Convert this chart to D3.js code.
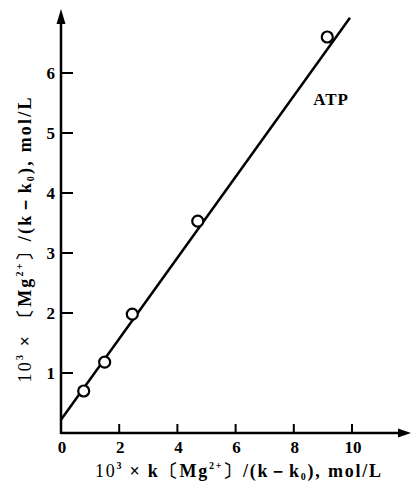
<!DOCTYPE html>
<html>
<head>
<meta charset="utf-8">
<script src="https://cdn.jsdelivr.net/npm/d3@7"></script>
<style>
  body { margin: 0; background: #fff; }
  svg text { font-family: "Liberation Serif", "DejaVu Serif", serif; font-weight: bold; fill: #000; }
</style>
</head>
<body>
<div id="chart"></div>
<script>
// measured points (x: 10^3 k[Mg]/(k-k0), y: 10^3 [Mg]/(k-k0))
const xValues = [0.78, 1.5, 2.45, 4.7, 9.15];
const yValues = [0.7, 1.18, 1.98, 3.53, 6.6];
// fitted line end points
const fitX = [0, 9.93];
const fitY = [0.22, 6.92];
const xTicks = [2, 4, 6, 8, 10];
const yTicks = [1, 2, 3, 4, 5, 6];
const seriesLabel = 'ATP';

const width = 411, height = 487;
const svg = d3.select('#chart').append('svg')
  .attr('width', width)
  .attr('height', height);

const x = d3.scaleLinear().domain([0, 10]).range([61, 352]);
const y = d3.scaleLinear().domain([0, 6]).range([433, 73]);

// axes lines with arrows
svg.append('line')
  .attr('x1', x(0)).attr('y1', y(0))
  .attr('x2', 402).attr('y2', y(0))
  .attr('stroke', '#000').attr('stroke-width', 2.5);
svg.append('path')
  .attr('d', `M411,${y(0)} L398,${y(0) - 4.5} L398,${y(0) + 4.5} Z`)
  .attr('fill', '#000');
svg.append('line')
  .attr('x1', x(0)).attr('y1', y(0) + 1)
  .attr('x2', x(0)).attr('y2', 20)
  .attr('stroke', '#000').attr('stroke-width', 2.5);
svg.append('path')
  .attr('d', `M${x(0)},9 L${x(0) - 4.5},24 L${x(0) + 4.5},24 Z`)
  .attr('fill', '#000');

// ticks (inside)
svg.selectAll('.xt').data(xTicks).enter().append('line')
  .attr('x1', d => x(d)).attr('x2', d => x(d))
  .attr('y1', y(0)).attr('y2', y(0) - 9)
  .attr('stroke', '#000').attr('stroke-width', 2);
svg.selectAll('.yt').data(yTicks).enter().append('line')
  .attr('x1', x(0)).attr('x2', x(0) + 12)
  .attr('y1', d => y(d)).attr('y2', d => y(d))
  .attr('stroke', '#000').attr('stroke-width', 2);

// tick labels
svg.selectAll('.xl').data([0].concat(xTicks)).enter().append('text')
  .attr('x', d => x(d) + 1).attr('y', y(0) + 20)
  .attr('text-anchor', 'middle')
  .attr('font-size', 17)
  .text(d => d);
svg.selectAll('.yl').data(yTicks).enter().append('text')
  .attr('x', x(0) - 6).attr('y', d => y(d) + 6)
  .attr('text-anchor', 'end')
  .attr('font-size', 17)
  .text(d => d);

// fitted line
svg.append('line')
  .attr('x1', x(fitX[0])).attr('y1', y(fitY[0]))
  .attr('x2', x(fitX[1])).attr('y2', y(fitY[1]))
  .attr('stroke', '#000').attr('stroke-width', 2.5);

// data circles
svg.selectAll('.pt').data(xValues).enter().append('circle')
  .attr('cx', d => x(d))
  .attr('cy', (d, i) => y(yValues[i]))
  .attr('r', 5.5)
  .attr('fill', '#fff')
  .attr('stroke', '#000')
  .attr('stroke-width', 2.2);

// series label
svg.append('text')
  .attr('x', 331).attr('y', 105)
  .attr('text-anchor', 'middle')
  .attr('font-size', 17)
  .attr('letter-spacing', 1)
  .text(seriesLabel);

// axis title builder
function axisTitle(sel, lead) {
  sel.append('tspan').attr('font-weight', 'normal').text('10');
  sel.append('tspan').attr('font-size', 10).attr('dy', -8).text('3');
  sel.append('tspan').attr('dy', 8).text(' × ');
  sel.append('tspan').text(lead + '〔Mg');
  sel.append('tspan').attr('font-size', 10).attr('dy', -8).text('2+');
  sel.append('tspan').attr('dy', 8).text('〕/(k－k');
  sel.append('tspan').attr('font-size', 10).attr('dy', 3).text('0');
  sel.append('tspan').attr('dy', -3).text('), mol/L');
}

// x axis title
const xt = svg.append('text')
  .attr('x', 238).attr('y', 477)
  .attr('text-anchor', 'middle')
  .attr('font-size', 18)
  .attr('textLength', 286)
  .attr('lengthAdjust', 'spacing');
axisTitle(xt, 'k');

// y axis title
const yt = svg.append('text')
  .attr('transform', 'translate(31,240) rotate(-90)')
  .attr('text-anchor', 'middle')
  .attr('font-size', 18)
  .attr('textLength', 285)
  .attr('lengthAdjust', 'spacing');
axisTitle(yt, '');
</script>
</body>
</html>
